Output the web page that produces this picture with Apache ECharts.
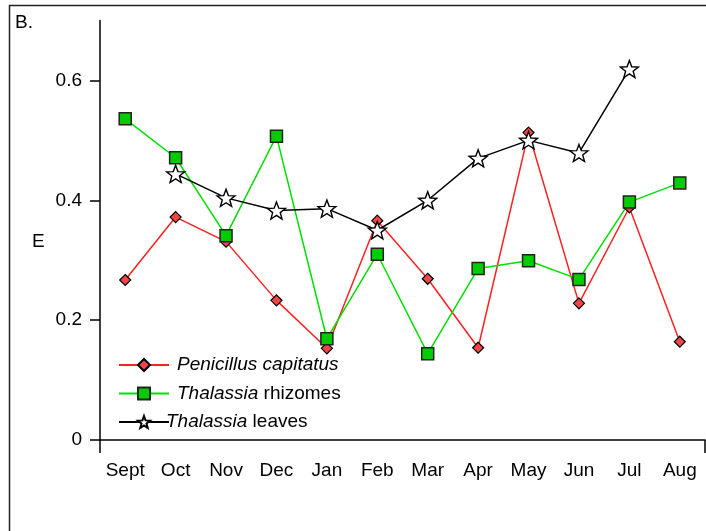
<!DOCTYPE html>
<html>
<head>
<meta charset="utf-8">
<script src="https://cdn.jsdelivr.net/npm/echarts@6/dist/echarts.min.js"></script>
<style>html,body{margin:0;padding:0;background:#fff}#c{width:706px;height:531px}</style>
</head>
<body>
<div id="c"></div>
<script>
var months = ['Sept','Oct','Nov','Dec','Jan','Feb','Mar','Apr','May','Jun','Jul','Aug'];
var penicillus = [0.267, 0.372, 0.331, 0.233, 0.153, 0.366, 0.269, 0.154, 0.513, 0.228, 0.388, 0.164];
var rhizomes = [0.536, 0.471, 0.341, 0.507, 0.169, 0.310, 0.144, 0.286, 0.299, 0.268, 0.397, 0.429];
var leaves = [null, 0.444, 0.404, 0.383, 0.386, 0.350, 0.400, 0.470, 0.500, 0.479, 0.619, null];
var yTicks = [0, 0.2, 0.4, 0.6];
var seriesNames = ['Penicillus capitatus', 'Thalassia rhizomes', 'Thalassia leaves'];
var panelLabel = 'B.';
var yName = 'E';

var FONT = "'Liberation Sans', Arial, sans-serif";
var FS = 19;
var STAR = 'path://M50,0L62.34,33.01L97.55,34.55L69.97,56.49L79.39,90.45L50,71L20.61,90.45L30.03,56.49L2.45,34.55L37.66,33.01Z';

var chart = echarts.init(document.getElementById('c'), null, {renderer: 'canvas'});
chart.setOption({
  animation: false,
  backgroundColor: '#fff',
  textStyle: {fontFamily: FONT},
  title: [
    {text: panelLabel, left: 15, top: 13, padding: 0, textStyle: {fontFamily: FONT, fontSize: FS, fontWeight: 'normal', color: '#000'}},
    {text: yName, left: 32, top: 232, padding: 0, textStyle: {fontFamily: FONT, fontSize: FS, fontWeight: 'normal', color: '#000'}}
  ],
  graphic: [{type: 'rect', left: 7, top: 3, shape: {width: 720, height: 560}, style: {fill: 'none', stroke: '#222', lineWidth: 1.5}, silent: true}],
  grid: {left: 100, right: 1, top: 20.5, bottom: 91, containLabel: false, outerBoundsMode: 'none'},
  legend: {
    orient: 'vertical', left: 113, top: 350, itemWidth: 50, itemHeight: 15, itemGap: 8.5,
    data: [
      {name: seriesNames[0]},
      {name: seriesNames[1]},
      {name: seriesNames[2], textStyle: {padding: [0, 0, 0, -8]}}
    ],
    formatter: function (n) {
      if (n === seriesNames[0]) return '{i|' + n + '}';
      var parts = n.split(' ');
      return '{i|' + parts[0] + '} ' + parts.slice(1).join(' ');
    },
    textStyle: {fontFamily: FONT, fontSize: FS, color: '#000', lineHeight: 20, padding: [0, 0, 0, 3],
      rich: {i: {fontFamily: FONT, fontSize: FS, fontStyle: 'italic', color: '#000', lineHeight: 20}}}
  },
  xAxis: [{
    type: 'category', data: months, boundaryGap: true,
    axisLine: {lineStyle: {color: '#000', width: 1.5}},
    axisTick: {alignWithLabel: true, length: 12, lineStyle: {color: '#000', width: 1.5}},
    axisLabel: {color: '#000', fontSize: FS, fontFamily: FONT, margin: 21, interval: 0},
    splitLine: {show: false}
  }, {
    type: 'category', data: months, boundaryGap: true, position: 'bottom',
    axisLine: {show: false},
    axisTick: {show: true, alignWithLabel: false, length: 13, interval: function (i) { return i === 0; }, lineStyle: {color: '#000', width: 1.5}},
    axisLabel: {show: false},
    splitLine: {show: false}
  }],
  yAxis: {
    type: 'value', min: 0, max: 0.7,
    axisLine: {show: true, lineStyle: {color: '#000', width: 1.5}},
    axisTick: {show: true, length: 10, customValues: yTicks, lineStyle: {color: '#000', width: 1.5}},
    axisLabel: {color: '#000', fontSize: FS, fontFamily: FONT, margin: 18, customValues: yTicks},
    splitLine: {show: false}
  },
  series: [{
    name: seriesNames[0], type: 'line', data: penicillus,
    symbol: 'diamond', symbolSize: 11,
    lineStyle: {color: '#ff2020', width: 1.5},
    itemStyle: {color: '#f04646', borderColor: '#000', borderWidth: 1.2}
  }, {
    name: seriesNames[1], type: 'line', data: rhizomes,
    symbol: 'rect', symbolSize: 12,
    lineStyle: {color: '#00e000', width: 1.5},
    itemStyle: {color: '#00cc00', borderColor: '#222', borderWidth: 1.5}
  }, {
    name: seriesNames[2], type: 'line', data: leaves,
    symbol: STAR, symbolSize: 18, symbolKeepAspect: true,
    lineStyle: {color: '#000', width: 1.5},
    itemStyle: {color: '#fff', borderColor: '#000', borderWidth: 1.4}
  }]
});
</script>
</body>
</html>
